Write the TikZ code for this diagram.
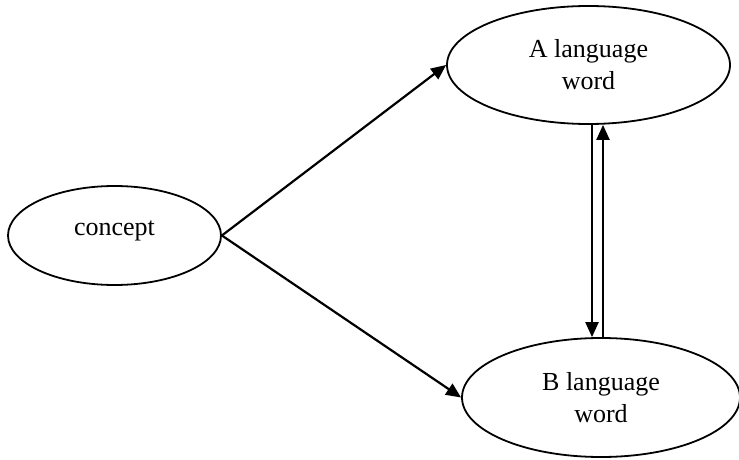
\documentclass[tikz,border=0pt]{standalone}
\usepackage{fontspec}
\setmainfont{Liberation Serif}
\usetikzlibrary{arrows.meta,shapes.geometric}
\tikzset{every picture/.style={line width=0.75pt}}

\begin{document}
\begin{tikzpicture}[x=1pt,y=1pt,yscale=-1,xscale=1,
	bubble/.style={draw,ellipse,line width=1.8pt,inner sep=0pt,align=center,font=\fontsize{26}{32}\selectfont},
	link/.style={line width=2.2pt,-{Triangle[length=15pt,width=13pt]}}]
	\useasboundingbox (0,0) rectangle (739,460);
	%Ellipse 
	\node [bubble, minimum width=213, minimum height=99, text depth=15pt] (concept) at (114.5,235.5) {concept};
	%Ellipse 
	\node [bubble, minimum width=283, minimum height=118] (aword) at (588.5,65) {A language\\word};
	%Ellipse 
	\node [bubble, minimum width=278, minimum height=119] (bword) at (601,397.5) {B language\\word};
	%Straight Lines 
	\draw [link] (concept.east) -- (aword.west);
	%Straight Lines 
	\draw [link] (concept.east) -- (bword.west);
	%Straight Lines 
	\draw [link] ([xshift=3.5]aword.south) -- ([xshift=3.5]aword.south |- bword.north);
	%Straight Lines 
	\draw [link] ([xshift=14.5]aword.south |- bword.north) -- ([xshift=14.5]aword.south);
\end{tikzpicture}
\end{document}
